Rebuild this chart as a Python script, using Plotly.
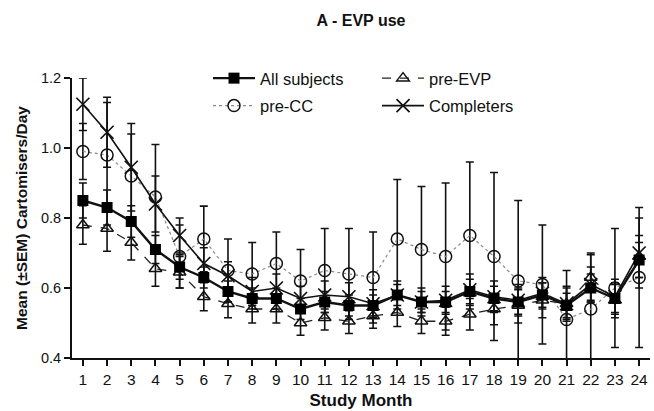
import plotly.graph_objects as go

months = list(range(1, 25))

all_subjects = [0.85, 0.83, 0.79, 0.71, 0.66, 0.63, 0.59, 0.57, 0.57, 0.54, 0.56, 0.55,
                0.55, 0.58, 0.56, 0.56, 0.59, 0.57, 0.56, 0.58, 0.55, 0.60, 0.57, 0.68]
all_subjects_sem = [0.05, 0.05, 0.045, 0.04, 0.035, 0.03, 0.03, 0.03, 0.03, 0.03, 0.03, 0.03,
                    0.03, 0.03, 0.03, 0.03, 0.035, 0.035, 0.035, 0.035, 0.035, 0.04, 0.04, 0.05]

pre_cc = [0.99, 0.98, 0.92, 0.86, 0.69, 0.74, 0.65, 0.64, 0.67, 0.62, 0.65, 0.64,
          0.63, 0.74, 0.71, 0.69, 0.75, 0.69, 0.62, 0.61, 0.51, 0.54, 0.60, 0.63]
pre_cc_sem = [0.08, 0.15, 0.12, 0.15, 0.09, 0.094, 0.09, 0.09, 0.09, 0.09, 0.12, 0.13,
              0.13, 0.17, 0.18, 0.21, 0.21, 0.24, 0.23, 0.17, 0.14, 0.16, 0.17, 0.20]

pre_evp = [0.78, 0.77, 0.73, 0.655, 0.645, 0.575, 0.555, 0.54, 0.54, 0.50, 0.515, 0.505,
           0.52, 0.53, 0.505, 0.505, 0.525, 0.54, 0.55, 0.565, 0.555, 0.63, 0.565, 0.69]
pre_evp_sem = [0.055, 0.065, 0.05, 0.05, 0.045, 0.04, 0.04, 0.04, 0.04, 0.035, 0.035, 0.035,
               0.035, 0.04, 0.035, 0.04, 0.045, 0.045, 0.05, 0.05, 0.05, 0.065, 0.05, 0.06]

completers = [1.125, 1.045, 0.945, 0.84, 0.75, 0.67, 0.635, 0.59, 0.60, 0.57, 0.58, 0.575,
              0.555, 0.58, 0.56, 0.565, 0.595, 0.575, 0.565, 0.585, 0.555, 0.61, 0.575, 0.70]
completers_sem = [0.075, 0.10, 0.125, 0.08, 0.05, 0.045, 0.04, 0.04, 0.04, 0.035, 0.04, 0.04,
                  0.04, 0.04, 0.04, 0.04, 0.045, 0.045, 0.045, 0.045, 0.045, 0.05, 0.05, 0.10]

y_ticks = [0.4, 0.6, 0.8, 1.0, 1.2]
y_tick_labels = ["0.4", "0.6", "0.8", "1.0", "1.2"]

FONT = "Liberation Sans, Arial, sans-serif"

fig = go.Figure()

def err(vals):
    return dict(type="data", array=vals, visible=True, color="#111111",
                thickness=1.6, width=4)

# pre-CC (dotted gray line, open circles)
fig.add_trace(go.Scatter(
    x=months, y=pre_cc, name="pre-CC", mode="lines+markers",
    line=dict(color="#8a8a8a", width=1.2, dash="dot"),
    marker=dict(symbol="circle-open", size=12, color="#111111", line=dict(width=1.5)),
    error_y=err(pre_cc_sem), legend="legend", legendgroup="b", legendrank=2,
))
# pre-EVP (dashed, open triangles)
fig.add_trace(go.Scatter(
    x=months, y=pre_evp, name="pre-EVP", mode="lines+markers",
    line=dict(color="#222222", width=1.3, dash="dash"),
    marker=dict(symbol="triangle-up-open", size=11, color="#111111", line=dict(width=1.5)),
    error_y=err(pre_evp_sem), legend="legend2", legendgroup="c", legendrank=1,
))
# Completers (solid, x)
fig.add_trace(go.Scatter(
    x=months, y=completers, name="Completers", mode="lines+markers",
    line=dict(color="#111111", width=1.6),
    marker=dict(symbol="x-thin-open", size=13, color="#111111", line=dict(width=1.7)),
    error_y=err(completers_sem), legend="legend2", legendgroup="d", legendrank=2,
))
# All subjects (solid thick, filled squares)
fig.add_trace(go.Scatter(
    x=months, y=all_subjects, name="All subjects", mode="lines+markers",
    line=dict(color="#111111", width=2.4),
    marker=dict(symbol="square", size=11, color="#000000"),
    error_y=err(all_subjects_sem), legend="legend", legendgroup="a", legendrank=1,
))

fig.update_layout(
    width=654, height=411,
    margin=dict(l=72, r=4, t=78, b=53),
    paper_bgcolor="white", plot_bgcolor="white",
    font=dict(family=FONT, color="#111111", size=15),
    title=dict(text="<b>A - EVP use</b>", x=0.552, xanchor="center", y=0.951, yanchor="middle",
               font=dict(size=16, family=FONT)),
    xaxis=dict(
        range=[0.55, 24.45], tickmode="array", tickvals=months,
        ticktext=[str(m) for m in months],
        showline=True, linecolor="#111111", linewidth=1.8,
        ticks="outside", ticklen=6, tickwidth=1.5, tickcolor="#111111",
        showgrid=False, zeroline=False,
        tickfont=dict(size=15.5, family=FONT),
        title=dict(text="<b>Study Month</b>", font=dict(size=17, family=FONT), standoff=8),
    ),
    yaxis=dict(
        range=[0.4, 1.2], tickmode="array", tickvals=y_ticks, ticktext=y_tick_labels,
        showline=True, linecolor="#111111", linewidth=1.8,
        ticks="outside", ticklen=6, tickwidth=1.5, tickcolor="#111111",
        showgrid=False, zeroline=False,
        tickfont=dict(size=14.5, family=FONT),
        title=dict(text="<b>Mean (±SEM) Cartomisers/Day</b>", font=dict(size=15.5, family=FONT), standoff=10),
    ),
    legend=dict(x=0.2353, y=1.061, xanchor="left", yanchor="top",
                traceorder="grouped", font=dict(size=16.5, family=FONT),
                bgcolor="rgba(0,0,0,0)", tracegroupgap=3, itemwidth=42),
    legend2=dict(x=0.5277, y=1.061, xanchor="left", yanchor="top",
                 traceorder="grouped", font=dict(size=16.5, family=FONT),
                 bgcolor="rgba(0,0,0,0)", tracegroupgap=3, itemwidth=42),
)

fig.write_html("out.html", config={"displayModeBar": False},
               post_script="document.body.style.margin='0';")
